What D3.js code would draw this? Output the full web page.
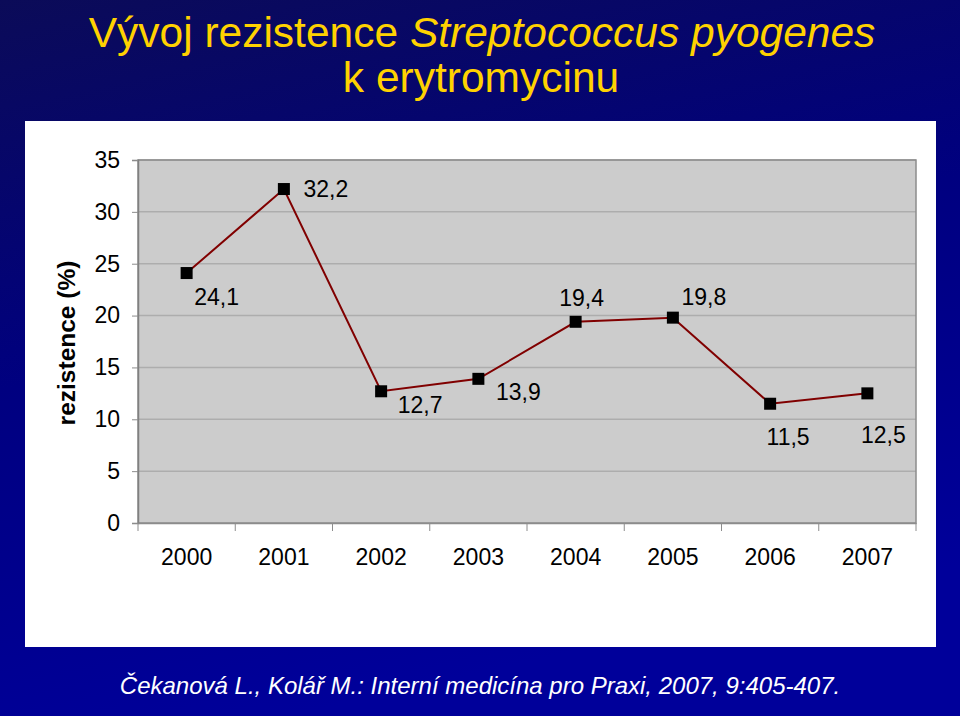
<!DOCTYPE html>
<html>
<head>
<meta charset="utf-8">
<script src="https://cdn.jsdelivr.net/npm/d3@7"></script>
<style>
  body { margin: 0; padding: 0; background: #000080; }
  svg { display: block; font-family: "Liberation Sans", Arial, sans-serif; }
</style>
</head>
<body>
<div id="chart"></div>
<script>
var years = ['2000', '2001', '2002', '2003', '2004', '2005', '2006', '2007'];
var resistance = [24.1, 32.2, 12.7, 13.9, 19.4, 19.8, 11.5, 12.5];
var yTicks = [0, 5, 10, 15, 20, 25, 30, 35];
// where each data label sits relative to its marker
var labelDx = [30, 42, 39, 40, 6, 31, 18, 16];
var labelDy = [24, 0, 14, 13, -24, -21, 33, 42];

var width = 960, height = 716;
var plot = { left: 138, right: 916, top: 160, bottom: 523 };
var font = '"Liberation Sans", Arial, sans-serif';

var svg = d3.select('#chart').append('svg')
  .attr('width', width)
  .attr('height', height);

var defs = svg.append('defs');
var grad = defs.append('linearGradient').attr('id', 'bg')
  .attr('x1', '0').attr('y1', '0').attr('x2', '0.3').attr('y2', '1');
grad.append('stop').attr('offset', '0').attr('stop-color', '#0b0b58');
grad.append('stop').attr('offset', '0.5').attr('stop-color', '#000080');
grad.append('stop').attr('offset', '1').attr('stop-color', '#00009a');

svg.append('rect').attr('width', width).attr('height', height).attr('fill', 'url(#bg)');

// title
var title = svg.append('text')
  .attr('x', 482).attr('y', 47)
  .attr('text-anchor', 'middle')
  .attr('fill', '#ffd200')
  .attr('font-size', 42.5);
title.append('tspan').text('Vývoj rezistence ');
title.append('tspan').attr('font-style', 'italic').text('Streptococcus pyogenes');
svg.append('text')
  .attr('x', 481).attr('y', 92)
  .attr('text-anchor', 'middle')
  .attr('fill', '#ffd200')
  .attr('font-size', 42.5)
  .text('k erytromycinu');

// white panel
svg.append('rect')
  .attr('x', 25).attr('y', 121)
  .attr('width', 911).attr('height', 526)
  .attr('fill', '#ffffff');

var x = d3.scaleBand().domain(years).range([plot.left, plot.right]);
var y = d3.scaleLinear().domain([0, 35]).range([plot.bottom, plot.top]);

svg.append('rect')
  .attr('x', plot.left).attr('y', plot.top)
  .attr('width', plot.right - plot.left).attr('height', plot.bottom - plot.top)
  .attr('fill', '#cccccc');

// gridlines
svg.append('g').selectAll('line')
  .data(yTicks.slice(1))
  .enter().append('line')
  .attr('x1', plot.left).attr('x2', plot.right)
  .attr('y1', function (d) { return y(d); })
  .attr('y2', function (d) { return y(d); })
  .attr('stroke', '#adadad')
  .attr('stroke-width', 1.5);

svg.append('rect')
  .attr('x', plot.left).attr('y', plot.top)
  .attr('width', plot.right - plot.left).attr('height', plot.bottom - plot.top)
  .attr('fill', 'none')
  .attr('stroke', '#8c8c8c')
  .attr('stroke-width', 1.5);

// y axis
var yAxis = svg.append('g')
  .attr('transform', 'translate(' + plot.left + ',0)')
  .call(d3.axisLeft(y).tickValues(yTicks).tickSize(6).tickPadding(12).tickFormat(d3.format('d')));
yAxis.select('.domain').attr('stroke', '#808080').attr('stroke-width', 1.5);
yAxis.selectAll('.tick line').attr('stroke', '#8c8c8c');
yAxis.selectAll('.tick text')
  .attr('font-size', 23)
  .attr('fill', '#000')
  .attr('font-family', font);

// x axis: ticks at category boundaries
var xAxis = svg.append('g')
  .attr('transform', 'translate(0,' + plot.bottom + ')')
  .call(d3.axisBottom(x).tickSize(0).tickPadding(26));
xAxis.select('.domain').attr('stroke', '#8c8c8c').attr('stroke-width', 1.5);
xAxis.selectAll('.tick text')
  .attr('font-size', 23)
  .attr('fill', '#000')
  .attr('font-family', font);
xAxis.selectAll('.bound')
  .data(years.concat(['end']))
  .enter().append('line')
  .attr('class', 'bound')
  .attr('x1', function (d, i) { return plot.left + i * x.bandwidth(); })
  .attr('x2', function (d, i) { return plot.left + i * x.bandwidth(); })
  .attr('y1', 0).attr('y2', 8)
  .attr('stroke', '#8c8c8c');

// y axis title
svg.append('text')
  .attr('transform', 'translate(75,343) rotate(-90)')
  .attr('text-anchor', 'middle')
  .attr('font-size', 24.5)
  .attr('font-weight', 'bold')
  .attr('fill', '#000')
  .text('rezistence (%)');

// series
var cx = function (d, i) { return x(years[i]) + x.bandwidth() / 2; };
var line = d3.line()
  .x(function (d, i) { return cx(d, i); })
  .y(function (d) { return y(d); });

svg.append('path')
  .datum(resistance)
  .attr('d', line)
  .attr('fill', 'none')
  .attr('stroke', '#800000')
  .attr('stroke-width', 2);

svg.append('g').selectAll('rect')
  .data(resistance)
  .enter().append('rect')
  .attr('x', function (d, i) { return cx(d, i) - 6; })
  .attr('y', function (d) { return y(d) - 6; })
  .attr('width', 12).attr('height', 12)
  .attr('fill', '#000');

svg.append('g').selectAll('text')
  .data(resistance)
  .enter().append('text')
  .attr('x', function (d, i) { return cx(d, i) + labelDx[i]; })
  .attr('y', function (d, i) { return y(d) + labelDy[i]; })
  .attr('dy', '0.35em')
  .attr('text-anchor', 'middle')
  .attr('font-size', 23)
  .attr('fill', '#000')
  .text(function (d) { return String(d).replace('.', ','); });

// citation
svg.append('text')
  .attr('x', 480).attr('y', 694)
  .attr('text-anchor', 'middle')
  .attr('font-size', 24)
  .attr('font-style', 'italic')
  .attr('fill', '#ffffff')
  .text('Čekanová L., Kolář M.: Interní medicína pro Praxi, 2007, 9:405-407.');
</script>
</body>
</html>
